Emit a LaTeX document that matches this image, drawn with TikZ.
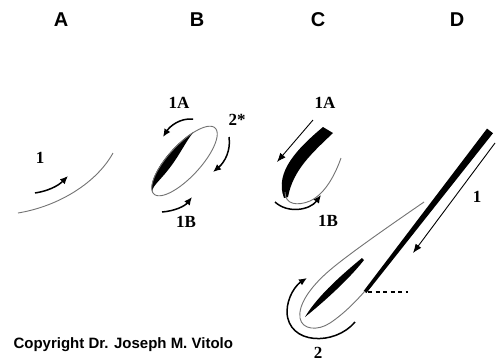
\documentclass[tikz,border=0pt]{standalone}
\usepackage{fontspec}
\setmainfont{Liberation Serif}
\newfontfamily\hdfont{Liberation Sans}
\usetikzlibrary{arrows.meta}
\definecolor{hairgray}{RGB}{115,115,115}
\begin{document}
\begin{tikzpicture}[x=1bp,y=-1bp,
  hair/.style={draw=hairgray, line width=0.9bp},
  curarrow/.style={draw=black, line width=1.5bp, -{Latex[length=8bp,width=7bp]}},
  strarrow/.style={draw=black, line width=0.9bp, -{Latex[length=9bp,width=7bp]}},
  panel/.style={font=\hdfont\bfseries\fontsize{20bp}{20bp}\selectfont},
  num/.style={font=\bfseries\fontsize{17bp}{17bp}\selectfont},
]
\useasboundingbox (0,0) rectangle (496,362);
\fill[white] (0,0) rectangle (496,362);

% panel titles
\node[panel] (tA) at (61,20) {A};
\node[panel] (tB) at (197,20) {B};
\node[panel] (tC) at (318,20) {C};
\node[panel] (tD) at (457,20) {D};
\node[anchor=base west, font=\hdfont\bfseries\fontsize{15bp}{15bp}\selectfont] (copy) at (10,348) {Copyright Dr. Joseph M. Vitolo};

% ---------- A ----------
\draw[hair] (18,213) .. controls (60,206) and (97,182) .. (113,153);
\coordinate (aS) at (35,193);
\coordinate (aE) at (68,176);
\draw[curarrow] (aS) .. controls (48,191) and (58,186) .. (aE);
\node[num] (nA1) at (40,158) {1};

% ---------- B ----------
\def\Bcx{184.5}\def\Bcy{161}
\fill[black] plot[domain=182:308, samples=60, smooth]
   ({\Bcx+45*cos(\x)*0.679+16.5*sin(\x)*0.734},{\Bcy-45*cos(\x)*0.734+16.5*sin(\x)*0.679})
 -- plot[domain=308:182, samples=60, smooth]
   ({\Bcx+45*cos(\x)*0.679+(16.5-10*sin((\x-182)*1.4286))*sin(\x)*0.734},{\Bcy-45*cos(\x)*0.734+(16.5-10*sin((\x-182)*1.4286))*sin(\x)*0.679}) -- cycle;
\draw[hair] plot[domain=0:360, samples=120, smooth]
   ({\Bcx+45*cos(\x)*0.679+16*sin(\x)*0.734},{\Bcy-45*cos(\x)*0.734+16*sin(\x)*0.679}) -- cycle;
\coordinate (b1aS) at (193,119);
\coordinate (b1aE) at (163,137);
\draw[curarrow] (b1aS) .. controls (180,118) and (170,126) .. (b1aE);
\node[num] (nB1A) at (179,103) {1A};
\coordinate (b2S) at (229,137);
\coordinate (b2E) at (213,172);
\draw[curarrow] (b2S) .. controls (231,150) and (225,162) .. (b2E);
\node[num] (nB2) at (237,120) {2*};
\coordinate (b1bS) at (162,212);
\coordinate (b1bE) at (192,197);
\draw[curarrow] (b1bS) .. controls (175,211) and (185,206) .. (b1bE);
\node[num] (nB1B) at (186,222) {1B};

% ---------- C ----------
\fill[black] (323,127) -- (333,133) .. controls (312,153) and (293,170) .. (288,197)
   -- (284,198) .. controls (274,172) and (298,148) .. (323,127) -- cycle;
\draw[hair] (285,192) .. controls (285,205) and (298,206) .. (310,201)
   .. controls (325,194) and (335,175) .. (341,158);
\coordinate (c1aS) at (313,120);
\coordinate (c1aE) at (277,162);
\draw[strarrow] (c1aS) -- (c1aE);
\node[num] (nC1A) at (325,103) {1A};
\coordinate (c1bS) at (275,202);
\coordinate (c1bE) at (321,195);
\draw[curarrow] (c1bS) .. controls (288,214) and (310,210) .. (c1bE);
\node[num] (nC1B) at (328,221) {1B};

% ---------- D ----------
% shaft
\fill[black] (487,128.6) -- (493,133.2) -- (366.4,293) -- (363.6,291) -- cycle;
% loop outline
\draw[hair] (424,202) .. controls (395,222) and (350,253) .. (330,270)
   .. controls (310,287) and (298,305) .. (300,318)
   .. controls (302,330) and (318,331) .. (330,323)
   .. controls (345,313) and (357,300) .. (365,291);
% inner black stroke of loop
\fill[black] (362,258) .. controls (345,272) and (318,295) .. (305,317)
   .. controls (325,301) and (350,278) .. (364,260) -- cycle;
% dotted mark
\draw[black, line width=2.2bp, dash pattern=on 4bp off 3.5bp] (368,292) -- (408,292);
% arrow 1
\coordinate (d1S) at (495,143);
\coordinate (d1E) at (413,253);
\draw[strarrow] (d1S) -- (d1E);
\node[num] (nD1) at (477,197) {1};
% arrow 2
\coordinate (d2S) at (355,322);
\coordinate (d2E) at (307,278);
\draw[curarrow] (d2S) .. controls (335,346) and (288,345) .. (287,312)
   .. controls (287,297) and (296,285) .. (d2E);
\node[num] (nD2) at (318,353) {2};
\end{tikzpicture}
\end{document}
